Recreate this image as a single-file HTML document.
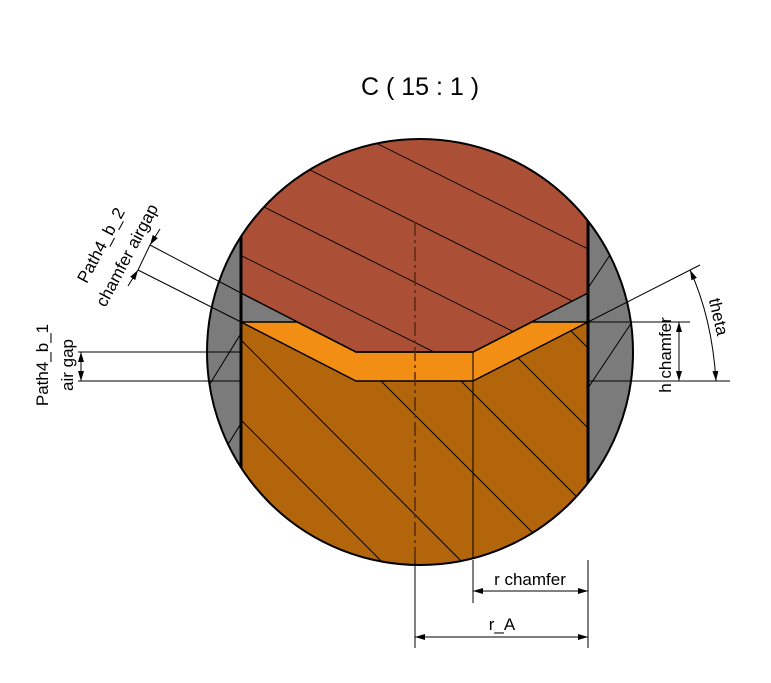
<!DOCTYPE html>
<html><head><meta charset="utf-8"><style>
html,body{margin:0;padding:0;background:#fff;}
svg{display:block;font-family:"Liberation Sans",sans-serif;}
</style></head><body>
<svg width="771" height="683" viewBox="0 0 771 683">
<defs>
<clipPath id="circ"><circle cx="420" cy="352" r="213"/></clipPath>
<clipPath id="redc"><polygon points="241,100 588,100 588,293 473,352 356,352 241,293"/></clipPath>
<clipPath id="orc"><polygon points="241,322 356,381 473,381 588,322 588,600 241,600"/></clipPath>
<clipPath id="grc"><path d="M150,100 H241 V600 H150 Z M588,100 H700 V600 H588 Z"/></clipPath>
<marker id="ar" viewBox="0 0 10 6" refX="10" refY="3" markerWidth="10" markerHeight="6" orient="auto-start-reverse" markerUnits="userSpaceOnUse"><path d="M0,0 L10,3 L0,6 Z" fill="#000"/></marker>
</defs>
<text x="420" y="95" font-size="25" text-anchor="middle">C ( 15 : 1 )</text>
<g clip-path="url(#circ)">
<rect x="200" y="130" width="450" height="450" fill="#7b7b7b"/>
<polygon points="241,100 588,100 588,293 473,352 356,352 241,293" fill="#ab5036"/>
<polygon points="241,322 356,381 473,381 588,322 588,600 241,600" fill="#b3650b"/>
<polygon points="241,322 297,322 356,352 473,352 532,322 588,322 473,381 356,381" fill="#f28e14" stroke="#000" stroke-width="1.5"/>
<g clip-path="url(#redc)" stroke="#000" stroke-width="1">
<line x1="150" y1="150" x2="650" y2="400"/><line x1="150" y1="210" x2="650" y2="460"/><line x1="150" y1="90" x2="650" y2="340"/><line x1="150" y1="30" x2="650" y2="280"/><line x1="250" y1="20" x2="650" y2="220"/><line x1="150" y1="270" x2="650" y2="520"/>
</g>
<g clip-path="url(#orc)" stroke="#000" stroke-width="1">
<line x1="241" y1="340" x2="500" y2="600"/><line x1="241" y1="420" x2="420" y2="600"/><line x1="241" y1="500" x2="340" y2="600"/><line x1="300" y1="300" x2="600" y2="600"/><line x1="380" y1="300" x2="680" y2="600"/><line x1="460" y1="300" x2="760" y2="600"/><line x1="540" y1="300" x2="840" y2="600"/>
</g>
<g clip-path="url(#grc)" stroke="#000" stroke-width="1">
<line x1="200" y1="400" x2="280" y2="270"/><line x1="200" y1="490" x2="280" y2="360"/><line x1="580" y1="300" x2="640" y2="210"/><line x1="580" y1="400" x2="640" y2="310"/><line x1="580" y1="500" x2="650" y2="395"/>
</g>
<line x1="241" y1="200" x2="241" y2="560" stroke="#000" stroke-width="3"/>
<line x1="588" y1="200" x2="588" y2="560" stroke="#000" stroke-width="3"/>
<polyline points="241,293 356,352 473,352 588,293" fill="none" stroke="#000" stroke-width="1.5"/>
<line x1="473" y1="352" x2="473" y2="570" stroke="#000" stroke-width="1"/>
</g>
<circle cx="420" cy="352" r="213" fill="none" stroke="#000" stroke-width="2"/>
<line x1="415" y1="222" x2="415" y2="560" stroke="#5a2a10" stroke-width="1.5" stroke-dasharray="14,4,3,4"/>
<g stroke="#000" stroke-width="1" fill="none">
<line x1="415" y1="560" x2="415" y2="648"/><line x1="588" y1="560" x2="588" y2="648"/><line x1="473" y1="560" x2="473" y2="603"/>
<line x1="473" y1="591" x2="588" y2="591" marker-start="url(#ar)" marker-end="url(#ar)"/>
<line x1="415" y1="637" x2="588" y2="637" marker-start="url(#ar)" marker-end="url(#ar)"/>
<line x1="78" y1="352" x2="241" y2="352"/><line x1="78" y1="381" x2="241" y2="381"/>
<line x1="81" y1="352" x2="81" y2="381" marker-start="url(#ar)" marker-end="url(#ar)"/>
<line x1="150" y1="245" x2="241" y2="293"/><line x1="138" y1="270" x2="241" y2="322"/>
<line x1="160" y1="229" x2="150" y2="245" marker-end="url(#ar)"/><line x1="128" y1="286" x2="138" y2="270" marker-end="url(#ar)"/>
<line x1="150" y1="245" x2="138" y2="270"/>
<line x1="588" y1="322" x2="690" y2="322"/><line x1="588" y1="381" x2="730" y2="381"/>
<line x1="679" y1="322" x2="679" y2="381" marker-start="url(#ar)" marker-end="url(#ar)"/>
<line x1="588" y1="322" x2="700" y2="265"/>
<path d="M690,270 Q712,318 716,381" marker-start="url(#ar)" marker-end="url(#ar)"/>
</g>
<g font-size="17" fill="#000">
<text x="530" y="585" text-anchor="middle">r chamfer</text>
<text x="502" y="630" text-anchor="middle">r_A</text>
<text transform="translate(48,365) rotate(-90)" text-anchor="middle">Path4_b_1</text>
<text transform="translate(73,365) rotate(-90)" text-anchor="middle">air gap</text>
<text transform="translate(106,248) rotate(-62)" text-anchor="middle">Path4_b_2</text>
<text transform="translate(132,258) rotate(-62)" text-anchor="middle">chamfer airgap</text>
<text transform="translate(671,355) rotate(-90)" text-anchor="middle">h chamfer</text>
<text transform="translate(713,318) rotate(77)" text-anchor="middle">theta</text>
</g>
</svg>
</body></html>
